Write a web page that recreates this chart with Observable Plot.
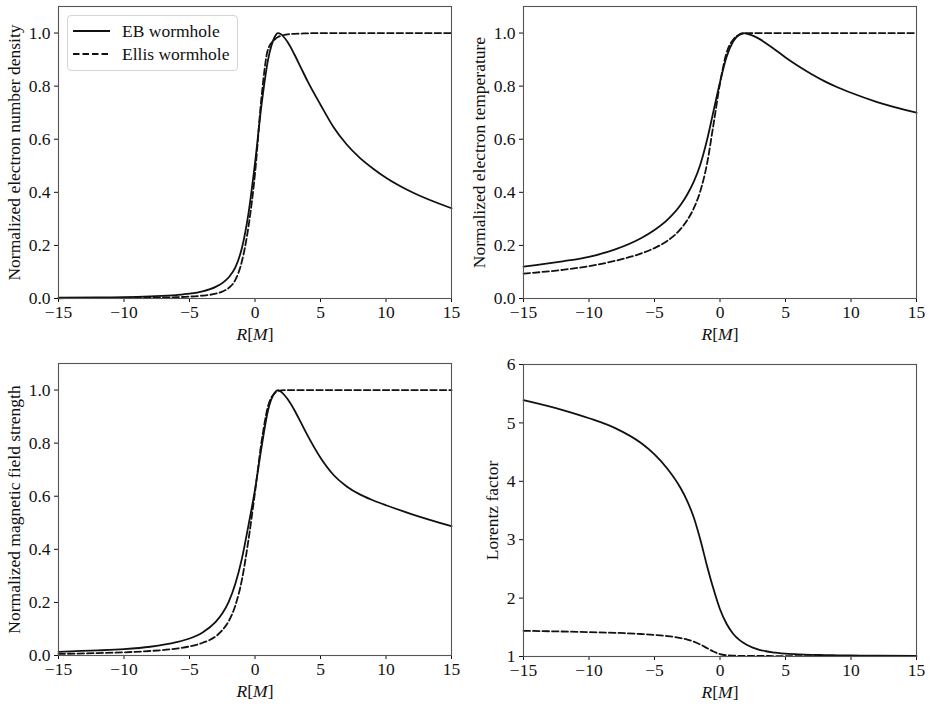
<!DOCTYPE html>
<html>
<head>
<meta charset="utf-8">
<script src="https://cdn.jsdelivr.net/npm/d3@7"></script>
<script src="https://cdn.jsdelivr.net/npm/@observablehq/plot@0.6"></script>
<style>
  body { margin: 0; background: #fff; }
  #fig { position: relative; width: 931px; height: 708px; font-family: "Liberation Serif", Tinos, "Times New Roman", Times, "DejaVu Serif", serif; color: #111; }
  .panel { position: absolute; }
  .legend { position: absolute; left: 67px; top: 15px; width: 171px; height: 56px; box-sizing: border-box;
            border: 1px solid #d4d4d4; border-radius: 4px; background: rgba(255,255,255,0.85); font-size: 17.5px; }
  .legend .row { position: absolute; left: 0; height: 20px; display: flex; align-items: center; }
  .legend svg { margin-left: 5px; margin-right: 12px; }
</style>
</head>
<body>
<div id="fig"></div>
<script>
// Radial coordinate R[M] at which each profile is sampled
const R = [-15, -12, -10, -8, -6, -5, -4, -3, -2.5, -2, -1.5, -1, -0.5, 0, 0.5, 1, 1.5, 1.75, 2, 2.5, 3, 3.5, 4, 5, 6, 7, 8, 9, 10, 12, 15];

// Normalized electron number density
const densityEB    = [0.003, 0.004, 0.005, 0.008, 0.013, 0.018, 0.027, 0.044, 0.058, 0.080, 0.117, 0.19, 0.32, 0.51, 0.73, 0.90, 0.985, 1.0, 0.995, 0.965, 0.92, 0.87, 0.82, 0.73, 0.645, 0.58, 0.53, 0.49, 0.455, 0.40, 0.34];
const densityEllis = [0.001, 0.0015, 0.002, 0.003, 0.005, 0.007, 0.011, 0.018, 0.026, 0.040, 0.070, 0.14, 0.27, 0.47, 0.76, 0.94, 0.975, 0.985, 0.99, 0.995, 0.997, 0.998, 0.999, 1.0, 1.0, 1.0, 1.0, 1.0, 1.0, 1.0, 1.0];

// Normalized electron temperature
const temperatureEB    = [0.12, 0.14, 0.157, 0.185, 0.228, 0.258, 0.297, 0.353, 0.392, 0.44, 0.505, 0.595, 0.705, 0.815, 0.91, 0.968, 0.995, 1.0, 0.998, 0.99, 0.978, 0.962, 0.945, 0.908, 0.875, 0.845, 0.818, 0.795, 0.775, 0.74, 0.70];
const temperatureEllis = [0.094, 0.108, 0.122, 0.142, 0.17, 0.19, 0.218, 0.262, 0.295, 0.34, 0.405, 0.505, 0.655, 0.81, 0.925, 0.975, 0.994, 0.998, 1.0, 1.0, 1.0, 1.0, 1.0, 1.0, 1.0, 1.0, 1.0, 1.0, 1.0, 1.0, 1.0];

// Normalized magnetic field strength
const fieldEB    = [0.014, 0.019, 0.024, 0.033, 0.05, 0.064, 0.087, 0.127, 0.158, 0.203, 0.27, 0.365, 0.49, 0.625, 0.785, 0.925, 0.99, 1.0, 0.993, 0.965, 0.925, 0.878, 0.83, 0.745, 0.68, 0.637, 0.607, 0.585, 0.566, 0.532, 0.487];
const fieldEllis = [0.006, 0.009, 0.012, 0.017, 0.026, 0.034, 0.048, 0.072, 0.095, 0.13, 0.188, 0.285, 0.435, 0.615, 0.805, 0.94, 0.988, 0.996, 0.999, 1.0, 1.0, 1.0, 1.0, 1.0, 1.0, 1.0, 1.0, 1.0, 1.0, 1.0, 1.0];

// Lorentz factor of the flow
const lorentzEB    = [5.39, 5.22, 5.08, 4.91, 4.65, 4.46, 4.21, 3.88, 3.66, 3.38, 3.0, 2.56, 2.16, 1.81, 1.56, 1.39, 1.28, 1.24, 1.205, 1.152, 1.115, 1.09, 1.072, 1.05, 1.037, 1.029, 1.024, 1.02, 1.017, 1.013, 1.01];
const lorentzEllis = [1.44, 1.428, 1.418, 1.405, 1.385, 1.37, 1.35, 1.315, 1.29, 1.255, 1.205, 1.145, 1.085, 1.04, 1.02, 1.014, 1.012, 1.011, 1.01, 1.01, 1.009, 1.009, 1.008, 1.007, 1.006, 1.006, 1.005, 1.005, 1.005, 1.005, 1.005];

const seriesNames = ["EB wormhole", "Ellis wormhole"];
const xTicks = [-15, -10, -5, 0, 5, 10, 15];
const normTicks = [0, 0.2, 0.4, 0.6, 0.8, 1.0];
const lorentzTicks = [1, 2, 3, 4, 5, 6];

const FONT = '"Liberation Serif", Tinos, "Times New Roman", Times, "DejaVu Serif", serif';
const INK = "#111";
const DASH = "6.5,3";
const minusFormat = d => (d < 0 ? "\u2212" + Math.abs(d) : String(d));

const fig = document.getElementById("fig");

function panel({eb, ellis, yDomain, yTicks, yFormat, yLabel, yLabelOffset, left, top}) {
  const ebRows = R.map((r, i) => ({R: r, v: eb[i]}));
  const ellisRows = R.map((r, i) => ({R: r, v: ellis[i]}));
  const chart = Plot.plot({
    width: 465,
    height: 350,
    marginLeft: 58,
    marginRight: 14,
    marginTop: 6,
    marginBottom: 52,
    style: {fontFamily: FONT, fontSize: "17.5px", color: INK, background: "transparent", overflow: "visible"},
    x: {domain: [-15, 15], ticks: xTicks, tickFormat: minusFormat, tickSize: 4, tickPadding: 3,
        label: "R[M]", labelAnchor: "center", labelArrow: "none", labelOffset: 41},
    y: {domain: yDomain, ticks: yTicks, tickFormat: yFormat, tickSize: 4, tickPadding: 4,
        label: yLabel, labelAnchor: "center", labelArrow: "none", labelOffset: yLabelOffset},
    marks: [
      Plot.line(ebRows, {x: "R", y: "v", curve: "monotone-x", stroke: INK, strokeWidth: 1.8}),
      Plot.line(ellisRows, {x: "R", y: "v", curve: "monotone-x", stroke: INK, strokeWidth: 1.8, strokeDasharray: DASH}),
      Plot.frame({stroke: "#555", strokeWidth: 1.1})
    ]
  });
  chart.setAttribute("font-family", FONT);
  // italic symbols in the R[M] axis title
  d3.select(chart).selectAll('[aria-label="x-axis label"] text').each(function () {
    const t = d3.select(this);
    t.text(null);
    t.append("tspan").attr("font-style", "italic").text("R");
    t.append("tspan").text("[");
    t.append("tspan").attr("font-style", "italic").text("M");
    t.append("tspan").text("]");
  });
  const holder = document.createElement("div");
  holder.className = "panel";
  holder.style.left = left + "px";
  holder.style.top = top + "px";
  holder.appendChild(chart);
  fig.appendChild(holder);
}

const fmt1 = d => d.toFixed(1);

panel({eb: densityEB, ellis: densityEllis, yDomain: [0, 1.1], yTicks: normTicks, yFormat: fmt1,
       yLabel: "Normalized electron number density", yLabelOffset: 51, left: 0, top: 0});
panel({eb: temperatureEB, ellis: temperatureEllis, yDomain: [0, 1.1], yTicks: normTicks, yFormat: fmt1,
       yLabel: "Normalized electron temperature", yLabelOffset: 51, left: 465, top: 0});
panel({eb: fieldEB, ellis: fieldEllis, yDomain: [0, 1.1], yTicks: normTicks, yFormat: fmt1,
       yLabel: "Normalized magnetic field strength", yLabelOffset: 51, left: 0, top: 357});
panel({eb: lorentzEB, ellis: lorentzEllis, yDomain: [1, 6], yTicks: lorentzTicks, yFormat: d => String(d),
       yLabel: "Lorentz factor", yLabelOffset: 38, left: 465, top: 358});

// Legend for the line styles, in the upper-left corner of the first panel
const legend = d3.select(fig).append("div").attr("class", "legend");
seriesNames.forEach((name, i) => {
  const row = legend.append("div").attr("class", "row").style("top", (5 + i * 23) + "px");
  const s = row.append("svg").attr("width", 37).attr("height", 4);
  s.append("line").attr("x1", 0).attr("x2", 37).attr("y1", 2).attr("y2", 2)
    .attr("stroke", INK).attr("stroke-width", 1.8)
    .attr("stroke-dasharray", i === 1 ? DASH : null);
  row.append("span").text(name);
});
</script>
</body>
</html>
